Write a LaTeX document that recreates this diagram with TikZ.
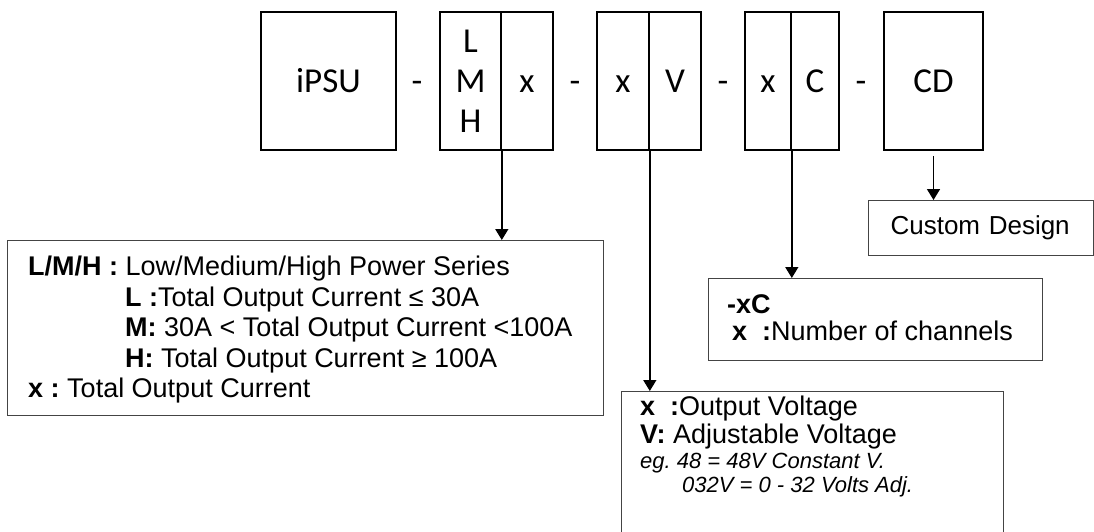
\documentclass[tikz,border=0pt]{standalone}
\usepackage{fontspec}
\setmainfont{Liberation Sans}
\newfontfamily\calib{Carlito}
\usetikzlibrary{arrows.meta}
\definecolor{gris}{HTML}{444444}
\frenchspacing

\begin{document}
\begin{tikzpicture}[x=1pt,y=-1pt,
  cell/.style={draw,line width=1.6pt,minimum height=138pt,inner sep=0pt,font=\calib\fontsize{35}{40}\selectfont,align=center},
  lab/.style={cell,text height=22pt,text depth=0pt},
  sep/.style={inner sep=0pt,font=\calib\fontsize{35}{40}\selectfont,text height=22pt,text depth=0pt},
  boite/.style={draw=gris,line width=1.1pt,anchor=north west,inner sep=0pt},
  txt/.style={anchor=north west,inner sep=0pt,align=left,font=\fontsize{27}{30.5}\selectfont},
  f/.style={-{Triangle[width=13pt,length=11pt]},line width=1.5pt}]
  \useasboundingbox (0,0) rectangle (1094,531);
  % ---- code du modele
  \node[lab,minimum width=135pt] (ipsu) at (328.5,81) {iPSU};
  \node[sep] (d1) at (417,81) {-};
  \node[cell,minimum width=61pt] (lmh) at (470.5,81) {L\\M\\H};
  \node[lab,minimum width=52pt] (lx) at (527,81) {x};
  \node[sep] (d2) at (575,81) {-};
  \node[lab,minimum width=52pt] (vx) at (623,81) {x};
  \node[lab,minimum width=52pt] (vv) at (675,81) {V};
  \node[sep] (d3) at (723,81) {-};
  \node[lab,minimum width=46pt] (cx) at (768,81) {x};
  \node[lab,minimum width=48pt] (cc) at (815,81) {C};
  \node[sep] (d4) at (861,81) {-};
  \node[lab,minimum width=99pt] (cd) at (933.5,81) {CD};
  % ---- descriptions
  \node[boite,minimum width=596pt,minimum height=175pt] (lbox) at (7,240) {};
  \node[txt] (ltxt) at ([xshift=21pt,yshift=-16pt]lbox.north west)
    {\textbf{L/M/H :} Low/Medium/High Power Series\\
     \hspace*{97pt}\textbf{L :}Total Output Current ≤ 30A\\
     \hspace*{97pt}\textbf{M:} 30A < Total Output Current <100A\\
     \hspace*{97pt}\textbf{H:} Total Output Current ≥ 100A\\
     \textbf{x :} Total Output Current};
  \node[boite,minimum width=382pt,minimum height=150pt] (vbox) at (621,391) {};
  \node[txt] (vtxt) at ([xshift=19pt,yshift=-5pt]vbox.north west)
    {\textbf{x\ \ :}Output Voltage\\[-2.5pt]
     \textbf{V:} Adjustable Voltage\\[-5.5pt]
     {\fontsize{22}{25}\selectfont\itshape eg. 48 = 48V Constant V.}\\[-6.5pt]
     {\fontsize{22}{25}\selectfont\itshape\hspace*{42pt}032V = 0 - 32 Volts Adj.}};
  \node[boite,minimum width=334pt,minimum height=82pt] (cbox) at (708,278) {};
  \node[txt] (ctxt) at ([xshift=19pt,yshift=-16pt]cbox.north west)
    {\textbf{-xC}\\[-3.5pt]
     \hspace*{5pt}\textbf{x\ \ :}Number of channels};
  \node[boite,text width=181pt,inner xsep=22pt,minimum height=55pt,align=left,font=\fontsize{26}{30}\selectfont] (cdbox) at (868,200) {Custom Design};
  % ---- fleches
  \draw[f] (lmh.south east) -- (lmh.south east |- lbox.north);
  \draw[f] (vx.south east) -- (vx.south east |- vbox.north);
  \draw[f] (cx.south east) -- (cx.south east |- cbox.north);
  \draw[f] ([yshift=-5pt]cd.south) -- (cd.south |- cdbox.north);
\end{tikzpicture}
\end{document}
